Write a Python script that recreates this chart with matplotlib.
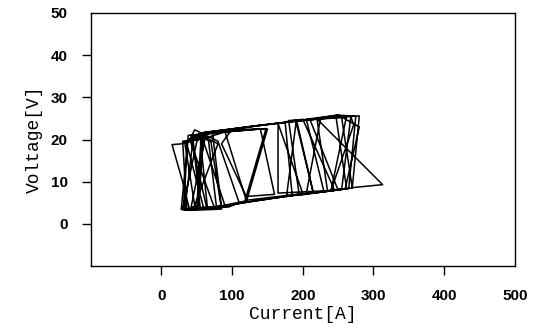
import numpy as np
import matplotlib.pyplot as plt

# current [A] / voltage [V] trace
current = [140, 55, 30, 15, 30, 40, 85, 70, 50, 35, 60, 95, 110, 80, 47, 40,
           75, 120, 150, 100, 60, 50, 30, 65, 55, 90, 120, 200, 165, 165, 250,
           210, 180, 195, 265, 275, 250, 205, 230, 270, 280, 220, 313, 270, 255,
           190, 215, 245, 200, 175, 185, 260, 280, 250, 220, 235, 255, 268, 272,
           240, 177, 191, 215, 240, 262, 230, 150, 60, 45, 33, 45, 80, 62, 42,
           52, 58, 100, 85, 120, 160, 140, 70, 38, 28, 50, 56, 30, 36, 68,
           118, 148, 60, 42, 64, 90, 58, 33, 48, 100, 200, 262, 247, 170, 60,
           52, 78, 66, 44, 55, 85, 72, 37, 31, 88, 130, 205, 225, 200, 120, 62]
voltage = [23.4, 21.5, 19.0, 18.8, 10.0, 3.2, 3.5, 19.5, 21.2, 19.5, 3.6, 4.0,
           5.0, 19.6, 22.3, 20.0, 3.8, 5.2, 22.5, 22.4, 21.5, 19.5, 3.5, 4.0,
           20.0, 21.8, 5.6, 7.2, 23.8, 7.3, 8.0, 24.8, 24.5, 6.8, 8.4, 25.5,
           25.8, 24.8, 7.6, 8.5, 25.6, 24.9, 9.3, 8.6, 25.2, 24.5, 7.3, 8.0, 24.8,
           24.2, 6.8, 8.3, 23.0, 25.8, 25.0, 7.8, 8.2, 25.4, 23.5, 7.9, 6.5, 24.7,
           7.3, 7.9, 25.6, 25.0, 23.6, 21.7, 20.5, 3.3, 3.5, 19.0, 20.5, 4.0, 4.2,
           21.0, 22.5, 19.0, 6.5, 7.0, 22.5, 21.5, 21.0, 3.4, 3.8, 20.2, 19.6,
           3.3, 3.7,
           5.4, 22.6, 21.4, 19.8, 3.9, 4.3, 20.3, 19.2, 3.4, 4.6, 7.1, 8.4, 25.4,
           24.0, 21.6, 3.6, 3.8, 20.6, 21.2, 3.5, 4.0, 21.8, 19.4, 3.3, 4.2, 5.4,
           7.2, 24.9, 24.6, 22.9, 21.6]

xticks = [0, 100, 200, 300, 400, 500]
yticks = [0, 10, 20, 30, 40, 50]

fig = plt.figure(figsize=(5.34, 3.33), dpi=100)
ax = fig.add_axes([0.170, 0.201, 0.794, 0.760])
ax.plot(current, voltage, color='black', lw=1.1)

ax.set_xlim(-100, 500)
ax.set_ylim(-10, 50)
ax.set_xticks(xticks)
ax.set_yticks(yticks)
ax.tick_params(direction='out', length=6.5, width=1.0, pad=10, colors='black')
for lab in ax.get_xticklabels() + ax.get_yticklabels():
    lab.set_fontfamily('Liberation Sans')
    lab.set_fontweight('bold')
    lab.set_fontsize(11)
# no tick marks on the frame corners
ax.xaxis.get_major_ticks()[-1].tick1line.set_visible(False)
ax.yaxis.get_major_ticks()[-1].tick1line.set_visible(False)

ax.set_xlabel('Current[A]', family='Liberation Mono', fontsize=13, labelpad=2)
ax.set_ylabel('Voltage[V]', family='Liberation Mono', fontsize=13, labelpad=6)
for s in ax.spines.values():
    s.set_linewidth(1.0)

fig.savefig('out.png', dpi=100)
